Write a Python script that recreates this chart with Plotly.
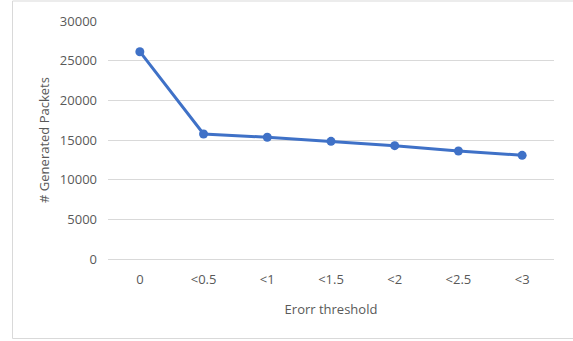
import plotly.graph_objects as go

categories = ["0", "<0.5", "<1", "<1.5", "<2", "<2.5", "<3"]
packets = [26130, 15760, 15340, 14830, 14290, 13610, 13070]
y_ticks = [0, 5000, 10000, 15000, 20000, 25000, 30000]

W, H = 573, 341
L, R, T, B = 108, 19, 21, 82
pw, ph = W - L - R, H - T - B

def px_to_paper_x(px):
    return (px - L) / pw

def px_to_paper_y(py):
    return (H - B - py) / ph

fig = go.Figure()
fig.add_trace(go.Scatter(
    x=categories, y=packets, mode="lines+markers",
    line=dict(color="#3f71c7", width=3),
    marker=dict(color="#3f71c7", size=9),
    showlegend=False, hoverinfo="skip",
))

font_color = "#595959"
fig.update_layout(
    width=W, height=H,
    margin=dict(l=L, r=R, t=T, b=B),
    paper_bgcolor="white", plot_bgcolor="white",
    font=dict(family="Open Sans, Liberation Sans, sans-serif", size=13, color=font_color),
    xaxis=dict(
        type="category", range=[-0.5, 6.5], showgrid=False, zeroline=False,
        showline=False, ticks="", ticklabelstandoff=11,
        tickfont=dict(size=13, color=font_color),
        title=dict(text="Erorr threshold", font=dict(size=13, color=font_color), standoff=17),
    ),
    yaxis=dict(
        range=[0, 30000], tickvals=y_ticks, ticktext=[str(v) for v in y_ticks],
        showgrid=True, gridcolor="#d9d9d9", gridwidth=1,
        zeroline=True, zerolinecolor="#d9d9d9", zerolinewidth=1,
        showline=False, ticks="", ticklabelstandoff=10,
        tickfont=dict(size=13, color=font_color),
        title=dict(text="# Generated Packets", font=dict(size=13, color=font_color), standoff=7),
    ),
    shapes=[dict(
        type="rect", xref="paper", yref="paper",
        x0=px_to_paper_x(12.5), x1=px_to_paper_x(580),
        y0=px_to_paper_y(338.5), y1=px_to_paper_y(1),
        line=dict(color="#d9d9d9", width=1), fillcolor="rgba(0,0,0,0)", layer="below",
    )],
)

fig.write_html(
    "out.html",
    config={"displayModeBar": False},
    post_script="document.body.style.margin='0';document.body.style.overflow='hidden';",
)
